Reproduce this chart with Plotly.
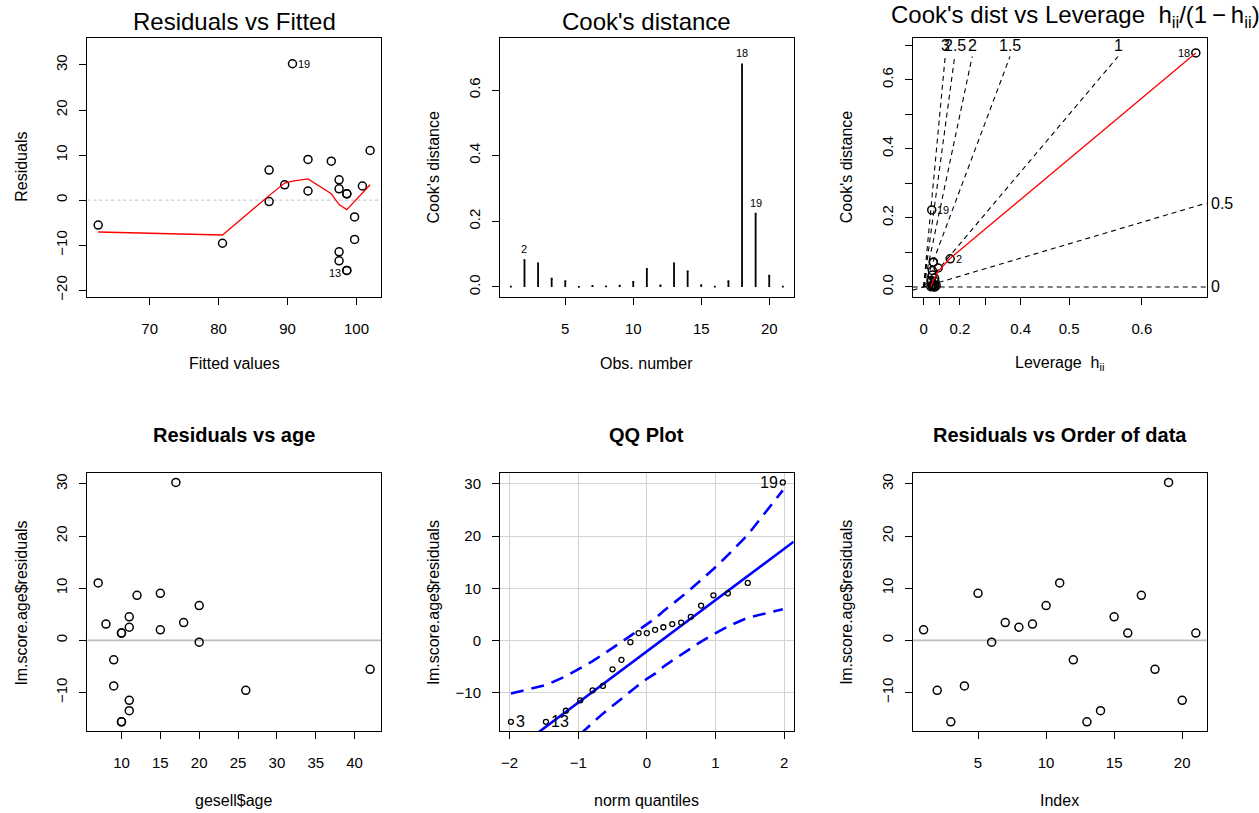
import plotly.graph_objects as go

W, H = 1259, 813
FONT = "Liberation Sans, Arial, Helvetica, sans-serif"

# ---------------- data ----------------
obs = list(range(1, 22))
age = [15, 26, 10, 9, 15, 20, 18, 11, 8, 20, 7, 9, 10, 11, 11, 10, 12, 42, 17, 11, 10]
fitted = [92.97, 80.57, 98.60, 99.73, 92.97, 87.33, 89.59, 97.48, 100.86, 87.33, 101.98,
          99.73, 98.60, 97.48, 97.48, 98.60, 96.35, 62.54, 90.72, 97.48, 98.60]
resid = [2.03, -9.57, -15.60, -8.73, 9.03, -0.33, 3.41, 2.52, 3.14, 6.67, 11.02,
         -3.73, -15.60, -13.48, 4.52, 1.40, 8.65, -5.54, 30.28, -11.48, 1.40]
cook = [0.0009, 0.0815, 0.0717, 0.0256, 0.0177, 0.0000, 0.0031, 0.0017, 0.0038, 0.0155, 0.0549,
        0.0047, 0.0717, 0.0476, 0.0054, 0.0007, 0.0179, 0.6781, 0.2233, 0.0345, 0.0007]
hat = [0.0479, 0.1545, 0.0628, 0.0705, 0.0479, 0.0726, 0.0580, 0.0567, 0.0798, 0.0726, 0.0908,
       0.0705, 0.0628, 0.0567, 0.0567, 0.0628, 0.0521, 0.6516, 0.0530, 0.0567, 0.0628]

# red smoother in "Residuals vs Fitted"
smooth_fit_x = [62.54, 80.57, 87.33, 89.59, 90.72, 92.97, 96.35, 97.48, 98.60, 99.73, 100.86, 101.98]
smooth_fit_y = [-7.08, -7.74, 1.0, 3.8, 4.2, 4.7, 1.4, -1.0, -2.1, -0.3, 1.5, 3.4]

# red smoother in "Cook's dist vs Leverage"
smooth_lev_h = [0.0479, 0.0530, 0.0567, 0.0628, 0.0726, 0.0908, 0.1545, 0.6516]
smooth_lev_cook = [0.002, 0.006, 0.012, 0.020, 0.030, 0.045, 0.083, 0.678]

# QQ plot
qq_theor = [-1.98, -1.47, -1.18, -0.97, -0.79, -0.64, -0.50, -0.37, -0.24, -0.12, 0.0,
            0.12, 0.24, 0.37, 0.50, 0.64, 0.79, 0.97, 1.18, 1.47, 1.98]
qq_sample = [-15.60, -15.60, -13.48, -11.48, -9.57, -8.73, -5.54, -3.73, -0.33, 1.40, 1.40,
             2.03, 2.52, 3.14, 3.41, 4.52, 6.67, 8.65, 9.03, 11.02, 30.28]
qq_upper = [-10.16, -8.57, -6.86, -5.34, -3.98, -2.68, -1.48, -0.32, 0.86, 2.00, 3.17,
            4.20, 5.60, 6.88, 8.30, 9.84, 11.60, 13.68, 16.34, 20.25, 28.76]
qq_lower = [-32.96, -24.45, -20.54, -17.88, -15.80, -14.04, -12.50, -11.08, -9.80, -8.56, -7.37,
            -6.36, -5.06, -3.88, -2.72, -1.52, -0.22, 1.14, 2.66, 4.37, 5.96]
qq_intercept, qq_slope = -2.10, 9.83

# Cook's distance contour levels (leverage plot)
cook_levels = [0, 0.5, 1, 1.5, 2, 2.5, 3]
n_coef = 2
lev_tick_h = [0, 0.2, 0.4, 0.5, 0.6]
lev_tick_text = ["0", "0.2", "0.4", "0.5", "0.6"]
lev_minor_h = [0.1, 0.3]

# ---------------- layout geometry (pixels) ----------------
col_px = [(87.3, 381.0), (500.0, 793.7), (912.7, 1206.7)]
row_px = [(37.7, 298.0), (475.2, 735.0)]


def xd(a, b):
    return [a / W, b / W]


def yd(a, b):
    return [1 - b / H, 1 - a / H]


fig = go.Figure()
lay = {}


def make_axes(i, col, row, xr, yr, xt, xtt, yt, ytt, yangle=-90, grid=False, ystand=6,
              xminor=None, yminor=None):
    xs = "xaxis" if i == 1 else f"xaxis{i}"
    ys = "yaxis" if i == 1 else f"yaxis{i}"
    common = dict(showline=True, mirror=True, linecolor="black", linewidth=1,
                  ticks="outside", ticklen=7, tickwidth=1, tickcolor="black",
                  zeroline=False, showgrid=grid, gridcolor="#D3D3D3", gridwidth=1.2,
                  tickfont=dict(size=15, color="black", family=FONT))
    lay[xs] = dict(domain=xd(*col_px[col]), range=xr, tickvals=xt, ticktext=xtt,
                   anchor=f"y{i if i > 1 else ''}", ticklabelstandoff=11, tickangle=0, **common)
    lay[ys] = dict(domain=yd(*row_px[row]), range=yr, tickvals=yt, ticktext=ytt,
                   anchor=f"x{i if i > 1 else ''}", ticklabelstandoff=ystand, tickangle=yangle, **common)
    mn = dict(tickmode="array", ticks="outside", ticklen=7, tickwidth=1, tickcolor="black", showgrid=False)
    if xminor:
        lay[xs]["minor"] = dict(tickvals=xminor, **mn)
    if yminor:
        lay[ys]["minor"] = dict(tickvals=yminor, **mn)


def ref(i):
    return ("x" if i == 1 else f"x{i}", "y" if i == 1 else f"y{i}")


circ = dict(symbol="circle-open", size=8, color="black", line=dict(width=1.5, color="black"))
annotations = []


def label(i, x, y, text, xanchor="center", yanchor="middle", xshift=0, yshift=0, size=11):
    xr_, yr_ = ref(i)
    annotations.append(dict(x=x, y=y, xref=xr_, yref=yr_, text=text, showarrow=False,
                            xanchor=xanchor, yanchor=yanchor, xshift=xshift, yshift=yshift,
                            font=dict(size=size, color="black", family=FONT)))


# ---- Panel 1: Residuals vs Fitted ----
make_axes(1, 0, 0, [60.96, 103.56], [-21.4, 36.1], [70, 80, 90, 100], ["70", "80", "90", "100"],
          [-20, -10, 0, 10, 20, 30], ["−20", "−10", "0", "10", "20", "30"])
fig.add_trace(go.Scatter(x=[60.96, 103.56], y=[0, 0], mode="lines", xaxis="x", yaxis="y",
                         line=dict(color="#BEBEBE", width=1, dash="dot")))
fig.add_trace(go.Scatter(x=fitted, y=resid, mode="markers", xaxis="x", yaxis="y", marker=circ))
fig.add_trace(go.Scatter(x=smooth_fit_x, y=smooth_fit_y, mode="lines", xaxis="x", yaxis="y",
                         line=dict(color="red", width=1.3)))
label(1, fitted[18], resid[18], "19", xanchor="left", xshift=4)
label(1, fitted[12], resid[12], "13", xanchor="right", xshift=-4, yshift=-3)

# ---- Panel 2: Cook's distance ----
make_axes(2, 1, 0, [0.2, 21.8], [-0.0292, 0.760], [5, 10, 15, 20], ["5", "10", "15", "20"],
          [0, 0.2, 0.4, 0.6], ["0.0", "0.2", "0.4", "0.6"])
bx, by = [], []
for o, c in zip(obs, cook):
    bx += [o, o, None]
    by += [0, c, None]
fig.add_trace(go.Scatter(x=bx, y=by, mode="lines", xaxis="x2", yaxis="y2",
                         line=dict(color="black", width=1.8)))
fig.add_trace(go.Scatter(x=obs, y=cook, mode="markers", xaxis="x2", yaxis="y2",
                         marker=dict(symbol="square", size=1.8, color="black")))
for k in [1, 17, 18]:
    label(2, obs[k], cook[k], str(obs[k]), yanchor="bottom", yshift=3)

# ---- Panel 3: Cook's dist vs Leverage ----
g = [h / (1 - h) for h in hat]
gmax = max(g)
x3 = [-0.04 * gmax, 1.04 * gmax]
ymx = max(cook) * 1.025
y3 = [-0.04 * ymx, 1.04 * ymx]
make_axes(3, 2, 0, x3, y3, [h / (1 - h) for h in lev_tick_h], lev_tick_text,
          [0, 0.2, 0.4, 0.6], ["0.0", "0.2", "0.4", "0.6"],
          xminor=[h / (1 - h) for h in lev_minor_h], yminor=[0.1, 0.3, 0.5, 0.7])
y_seg = y3[1] - 0.055
for b in cook_levels:
    b2 = b * b
    if n_coef * y3[1] > b2 * x3[1]:
        xs_ = [x3[0], x3[1]]
        ys_ = [b2 * xv / n_coef for xv in xs_]
        fig.add_trace(go.Scatter(x=xs_, y=ys_, mode="lines", xaxis="x3", yaxis="y3",
                                 line=dict(color="black", width=1.1, dash="5px,4px")))
        label(3, x3[1], b2 * x3[1] / n_coef, f"{b:g}", xanchor="left", xshift=2, size=16)
    else:
        xi = n_coef * y_seg / b2
        fig.add_trace(go.Scatter(x=[0, xi], y=[0, y_seg], mode="lines", xaxis="x3", yaxis="y3",
                                 line=dict(color="black", width=1.1, dash="5px,4px")))
        label(3, xi, y_seg, f"{b:g}", yanchor="bottom", yshift=0, size=16)
fig.add_trace(go.Scatter(x=g, y=cook, mode="markers", xaxis="x3", yaxis="y3", marker=circ))
fig.add_trace(go.Scatter(x=[h / (1 - h) for h in smooth_lev_h], y=smooth_lev_cook, mode="lines",
                         xaxis="x3", yaxis="y3", line=dict(color="red", width=1.3)))
label(3, g[17], cook[17], "18", xanchor="right", xshift=-4)
label(3, g[1], cook[1], "2", xanchor="left", xshift=4)
label(3, g[18], cook[18], "19", xanchor="left", xshift=3)

# ---- Panel 4: Residuals vs age ----
make_axes(4, 0, 1, [5.6, 43.4], [-17.44, 32.12], [10, 15, 20, 25, 30, 35, 40],
          ["10", "15", "20", "25", "30", "35", "40"],
          [-10, 0, 10, 20, 30], ["−10", "0", "10", "20", "30"])
fig.add_trace(go.Scatter(x=[5.6, 43.4], y=[0, 0], mode="lines", xaxis="x4", yaxis="y4",
                         line=dict(color="#BEBEBE", width=1.8)))
fig.add_trace(go.Scatter(x=age, y=resid, mode="markers", xaxis="x4", yaxis="y4", marker=circ))

# ---- Panel 5: QQ Plot ----
make_axes(5, 1, 1, [-2.139, 2.139], [-17.44, 32.12], [-2, -1, 0, 1, 2], ["−2", "−1", "0", "1", "2"],
          [-10, 0, 10, 20, 30], ["−10", "0", "10", "20", "30"], yangle=0, grid=True, ystand=8)
lx = [-2.139, 2.139]
fig.add_trace(go.Scatter(x=lx, y=[qq_intercept + qq_slope * v for v in lx], mode="lines",
                         xaxis="x5", yaxis="y5", line=dict(color="#0000FF", width=2.6)))
for env in (qq_upper, qq_lower):
    fig.add_trace(go.Scatter(x=qq_theor, y=env, mode="lines", xaxis="x5", yaxis="y5",
                             line=dict(color="#0000FF", width=2.6, dash="13px,8px")))
fig.add_trace(go.Scatter(x=qq_theor, y=qq_sample, mode="markers", xaxis="x5", yaxis="y5",
                         marker=dict(symbol="circle-open", size=5, color="black",
                                     line=dict(width=1.3, color="black"))))
label(5, qq_theor[0], qq_sample[0], "3", xanchor="left", xshift=3, size=16)
label(5, qq_theor[1], qq_sample[1], "13", xanchor="left", xshift=3, size=16)
label(5, qq_theor[20], qq_sample[20], "19", xanchor="right", xshift=-3, size=16)

# ---- Panel 6: Residuals vs Order of data ----
make_axes(6, 2, 1, [0.2, 21.8], [-17.44, 32.12], [5, 10, 15, 20], ["5", "10", "15", "20"],
          [-10, 0, 10, 20, 30], ["−10", "0", "10", "20", "30"])
fig.add_trace(go.Scatter(x=[0.2, 21.8], y=[0, 0], mode="lines", xaxis="x6", yaxis="y6",
                         line=dict(color="#BEBEBE", width=1.8)))
fig.add_trace(go.Scatter(x=obs, y=resid, mode="markers", xaxis="x6", yaxis="y6", marker=circ))


# ---------------- titles ----------------
def paper_text(xp, yp, text, size, angle=0, xanchor="center"):
    annotations.append(dict(x=xp / W, y=1 - yp / H, xref="paper", yref="paper", text=text,
                            showarrow=False, xanchor=xanchor, yanchor="middle", textangle=angle,
                            font=dict(size=size, color="black", family=FONT)))


titles_top = ["Residuals vs Fitted", "Cook's distance",
              "Cook's dist vs Leverage  h<sub>ii</sub>/(1\u2009\u2212\u2009h<sub>ii</sub>)"]
titles_bot = ["<b>Residuals vs age</b>", "<b>QQ Plot</b>", "<b>Residuals vs Order of data</b>"]
xlabels = [["Fitted values", "Obs. number", "Leverage  h<sub>ii</sub>"],
           ["gesell$age", "norm quantiles", "Index"]]
ylabels = [["Residuals", "Cook's distance", "Cook's distance"],
           ["lm.score.age$residuals", "lm.score.age$residuals", "lm.score.age$residuals"]]

for c in range(3):
    cx = (col_px[c][0] + col_px[c][1]) / 2
    if c < 2:
        paper_text(cx, 21.7, titles_top[c], 24)
    else:
        paper_text(889, 17, titles_top[c], 24, xanchor="left")
    paper_text(cx, 436.7, titles_bot[c], 20)
    for r in range(2):
        paper_text(cx, row_px[r][1] + (67.7 if r == 0 else 69), xlabels[r][c], 16)
        cy = (row_px[r][0] + row_px[r][1]) / 2
        paper_text(col_px[c][0] - 66.5, cy, ylabels[r][c], 16, angle=-90)

lay.update(dict(width=W, height=H, margin=dict(l=0, r=0, t=0, b=0), showlegend=False,
                paper_bgcolor="white", plot_bgcolor="white",
                font=dict(family=FONT, color="black"), annotations=annotations))
fig.update_layout(**lay)
fig.write_html("out.html")
